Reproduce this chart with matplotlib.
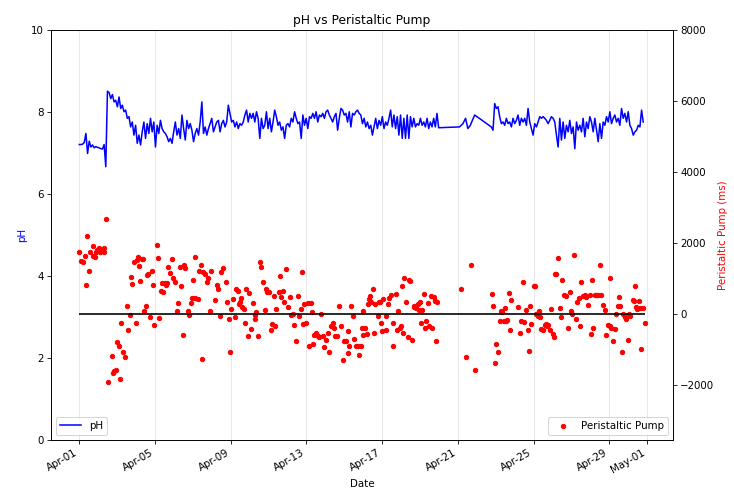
import matplotlib
matplotlib.use("Agg")
import matplotlib.pyplot as plt
import matplotlib.dates as mdates
import numpy as np
import pandas as pd

START = pd.Timestamp("2024-04-01")

# pH readings, first continuous run (one reading every 126 minutes from Apr 1)
ph_run1 = [
    7.21, 7.21, 7.22, 7.26, 7.48, 6.99, 7.29, 7.15, 7.20, 7.13,
    7.16, 7.14, 7.13, 7.11, 7.10, 7.21, 6.67, 8.51, 8.48, 8.33,
    8.43, 8.25, 8.29, 8.13, 8.37, 8.09, 8.17, 8.01, 8.05, 7.85,
    7.89, 7.64, 7.76, 7.44, 7.68, 7.24, 7.44, 7.20, 7.52, 7.76,
    7.36, 7.72, 7.48, 7.85, 7.52, 7.76, 7.15, 7.68, 7.48, 7.80,
    7.60, 7.52, 7.48, 7.40, 7.28, 7.36, 7.24, 7.52, 7.76, 7.44,
    7.60, 7.36, 7.93, 7.60, 7.32, 7.80, 7.60, 7.72, 7.56, 7.28,
    7.48, 7.60, 7.44, 7.76, 8.25, 7.48, 7.64, 7.44, 7.60, 7.72,
    7.85, 7.52, 7.64, 7.76, 7.80, 7.52, 7.72, 7.80, 7.64, 7.76,
    8.17, 7.97, 7.76, 7.80, 7.64, 7.76, 7.60, 7.72, 7.68, 7.76,
    7.93, 8.05, 7.76, 7.97, 7.85, 7.97, 7.76, 8.01, 7.85, 7.36,
    7.85, 7.60, 7.68, 8.01, 7.60, 7.85, 7.52, 7.76, 8.05, 7.89,
    7.68, 7.76, 7.56, 7.64, 7.36, 7.68, 7.72, 7.64, 7.85, 7.76,
    8.01, 7.85, 7.72, 7.76, 7.36, 7.93, 7.68, 7.85, 7.60, 7.89,
    7.85, 7.97, 7.85, 8.01, 7.76, 7.93, 7.89, 7.97, 7.85, 8.01,
    8.05, 7.93, 7.85, 7.76, 7.89, 7.97, 7.56, 7.85, 8.09, 8.05,
    7.93, 7.97, 7.76, 8.01, 7.64, 7.97, 7.93, 8.01, 8.05, 7.97,
    7.93, 7.72,
    7.85, 7.64, 7.76, 7.60, 7.68, 7.44, 7.64, 7.85, 7.60, 7.80,
    7.68, 7.89, 7.60, 7.76, 7.68, 7.85, 8.05, 7.64, 7.93, 7.60,
    7.89, 7.44, 7.93, 7.36, 7.85, 7.36, 7.93, 7.36, 7.89, 7.64,
    7.85, 7.64, 7.72, 7.68, 7.85, 7.68, 7.76, 7.64, 7.85, 7.60,
    7.76, 7.64, 7.85, 7.64, 7.97, 7.62,
]

# sparse readings around Apr 21 (days after Apr 1)
ph_gap_days = [20.09, 20.27, 20.41, 20.53, 20.66, 20.89, 21.77]
ph_gap_vals = [7.64, 7.72, 7.85, 7.60, 7.68, 7.93, 7.64]

# second continuous run (one reading every 127 minutes from day 21.86)
ph_run2_start = 21.86
ph_run2 = [
    7.56, 8.21, 8.09, 8.13, 7.89, 7.72, 7.76, 7.68, 7.85, 7.72,
    7.76, 7.64, 7.85, 7.72, 7.80, 7.93, 7.68, 7.85, 7.76, 7.85,
    7.68, 8.09, 7.76, 7.60, 7.44, 7.72, 7.64, 7.76, 7.89, 7.85,
    7.89, 7.85, 7.80, 7.72, 7.80, 7.89, 7.85, 7.76, 7.44, 7.15,
    7.85, 7.32, 7.76, 7.36, 7.68, 7.52, 7.80, 7.48, 7.64, 7.11,
    7.76, 7.56, 7.68, 7.52, 7.85, 7.40, 7.76, 7.60, 7.89, 7.76,
    7.52, 7.85, 7.56, 7.28, 7.72, 7.36, 7.76, 7.68, 7.89, 7.76,
    8.01, 7.72, 7.85, 7.93, 7.76, 7.85, 7.68, 8.09, 7.85, 7.97,
    7.76, 8.01, 7.68, 7.60, 7.44, 7.52, 7.56, 7.68, 7.64, 8.05,
    7.76,
]

# peristaltic pump dosing events: days after Apr 1 and duration (ms)
pump_days = [
    0.00, 0.11, 0.18, 0.28, 0.40, 0.49, 0.35, 0.58, 0.70, 0.75,
    0.81, 0.88, 0.95, 1.02, 1.09, 1.16, 1.28, 1.33, 1.40, 1.54,
    1.72, 1.77, 1.86, 1.93, 1.98, 2.11, 2.16, 2.21, 2.33, 2.39,
    2.51, 2.56, 2.68, 2.74, 2.81, 2.91, 2.98, 3.04, 3.12, 3.16,
    3.21, 3.30, 3.39, 3.44, 3.51, 3.56, 3.65, 3.74, 3.82, 3.91,
    3.96, 4.09, 4.14, 4.21, 4.32, 4.39, 4.44, 4.53, 4.56, 4.61,
    4.70, 4.79, 4.88, 4.96, 5.05, 5.14, 5.19, 5.32, 5.40, 5.49,
    5.54, 5.61, 5.75, 5.79, 5.89, 5.96, 6.02, 6.11, 6.14, 6.25,
    6.32, 6.42, 6.49, 6.54, 6.63, 6.77, 6.81, 6.89, 6.98, 7.16,
    7.25, 7.33, 7.42, 7.51, 7.60, 7.77, 7.82, 7.89, 7.95, 8.04,
    8.12, 8.21, 8.30, 8.39, 8.44, 8.47, 8.56, 8.60, 8.70, 8.77,
    8.82, 8.91, 8.95, 9.05, 9.18, 9.26, 9.30, 9.35, 9.44, 9.53,
    9.58, 9.70, 9.79, 9.88, 9.93, 10.00, 10.14, 10.18, 10.28, 10.35,
    10.40, 10.53, 10.58, 10.67, 10.75, 10.84, 10.93, 11.02, 11.11, 11.19,
    11.28, 11.37, 11.46, 11.54, 11.63, 11.72, 11.77, 11.81, 11.89, 11.98,
    12.07, 12.16, 12.25, 12.28, 12.33, 12.42, 12.51, 12.60, 12.68, 12.77,
    12.86, 12.95, 13.04, 13.12, 13.21, 13.30, 13.39, 13.44, 13.51, 13.61,
    13.74, 13.82, 13.91, 14.00, 14.09, 14.18, 14.21, 14.26, 14.35, 14.44,
    14.53, 14.61, 14.70, 14.79, 14.88, 14.96, 14.98, 15.01, 15.12, 15.19,
    15.24, 15.29, 15.37, 15.42, 15.51, 15.59, 15.65, 15.77, 15.82, 15.89,
    15.95, 16.00, 16.07, 16.18, 16.21, 16.30, 16.39, 16.48, 16.56, 16.60,
    16.71, 16.78, 16.83, 16.92, 17.01, 17.06, 17.09, 17.18, 17.27, 17.36,
    17.41, 17.48, 17.59, 17.66, 17.71, 17.80, 17.89, 17.94, 18.01, 18.06,
    18.12, 18.19, 18.24, 18.33, 18.42, 18.50, 18.59, 18.65, 18.72, 18.82,
    18.86, 18.89, 20.18, 20.44, 20.71, 20.89, 21.82, 21.86, 21.95, 22.03,
    22.12, 22.21, 22.30, 22.35, 22.42, 22.47, 22.53, 22.60, 22.70, 22.74,
    22.83, 23.18, 23.27, 23.35, 23.44, 23.48, 23.62, 23.71, 23.76, 23.83,
    23.88, 24.01, 24.06, 24.15, 24.24, 24.29, 24.32, 24.41, 24.50, 24.59,
    24.64, 24.71, 24.77, 24.85, 24.94, 25.03, 25.07, 25.12, 25.21, 25.30,
    25.38, 25.47, 25.52, 25.59, 25.70, 25.82, 25.91, 26.00, 26.05, 26.12,
    26.23, 26.30, 26.41, 26.48, 26.53, 26.62, 26.71, 26.79, 26.88, 26.97,
    27.06, 27.11, 27.15, 27.23, 27.32, 27.41, 27.50, 27.59, 27.68, 27.76,
    27.85, 27.94, 28.03, 28.06, 28.12, 28.20, 28.29, 28.38, 28.47, 28.52,
    28.59, 28.66, 28.73, 28.82, 28.87, 28.91, 29.00, 29.05, 29.12, 29.23,
    29.30, 29.35, 29.40, 29.47, 29.58, 29.61, 29.70, 29.79, 29.88,
]
pump_ms = [
    1740, 1500, 1480, 1650, 2210, 1220, 820, 1760, 1930, 1650,
    1600, 1740, 1810, 1850, 1760, 1810, 1740, 1850, 2680, -1910,
    -1190, -1650, -1600, -1570, -800, -910, -1830, -250, -1080, -1220,
    240, -440, -30, 1050, 850, 1460, -240, 1530, 1600, 1360,
    940, 1550, 1550, 90, 220, 1100, 1130, -70, 1220, 820,
    -300, 1950, 1570, -120, 660, 870, 610, 870, 820, 870,
    1320, 1160, 1550, 1010, 910, 90, 310, 1320, 780, -580,
    1380, 1290, 90, -30, 310, 440, 970, 440, 1600, 420,
    1220, 1380, -1270, 1180, 1130, 890, 1010, 90, 1220, 400,
    820, 720, -50, 1180, 1290, 910, 350, -140, -1060, 140,
    420, -70, 710, 660, 280, 330, 440, 190, 140, -240,
    720, -630, 590, -420, 310, -140, -30, 70, -630, 1480,
    1340, 890, 120, 710, 610, 630, -440, -280, 500, -350,
    140, 630, 1060, 470, 660, 350, 1270, 190, 470, -30,
    0, -310, -750, 520, -50, 140, 1190, -280, 280, -240,
    310, -910, 310, 50, -850, -590, -540, -630, -660, 0,
    -630, -940, -720, -520, -1080, -350, -250, -380, -630, -630,
    240, -350, -1290, -750, -750, -470, -1100, -890, 240, -50,
    -710, -890, -910, -1160, -890, -380, -590, 90, -380, -560,
    280, 420, 500, 350, 710, -520, 280, -50, 330, 330,
    -240, -470, 420, -50, -440, 280, 440, 540, -890, -240,
    560, -440, 90, -380, -350, 780, -520, 1010, 350, -660,
    970, 940, -720, 240, 190, 160, 280, 120, 330, -240,
    120, 560, -400, -190, 310, -350, 520, -400, 470, 380,
    -750, 330, 710, -1200, 1380, -1580, 560, 220, -1380, -850,
    -1080, -190, 90, 50, -190, 160, -190, -160, 590, -440,
    400, 190, -540, -190, 910, -220, 120, -440, -1030, 240,
    -280, 780, 780, 0, -50, 90, -90, -420, -440, -310,
    -280, -350, -310, -440, 140, -560, -660, 1130, 1130, 1570,
    160, -70, 970, 540, 520, -380, 630, 90, 0, 1660,
    -140, 330, 440, -350, 910, 520, 540, 470, 250, 540,
    -560, 970, -400, 540, 540, 540, 1380, 540, 250, 120,
    -590, -310, 1010, -350, -380, -750, -420, 0, 240, 470,
    220, -1080, 0, -70, -140, -90, -720, 0, -50, 400,
    380, 800, 190, 140, 380, 160, -990, 160, -250,
]

TICK_DAYS = [1, 5, 9, 13, 17, 21, 25, 29]

# timestamps
t_run1 = START + pd.to_timedelta(np.arange(len(ph_run1)) * 126, unit="min")
t_gap = START + pd.to_timedelta(ph_gap_days, unit="D")
t_run2 = (START + pd.to_timedelta(ph_run2_start, unit="D")
          + pd.to_timedelta(np.arange(len(ph_run2)) * 127, unit="min"))
ph_t = t_run1.append(t_gap).append(t_run2)
ph_v = list(ph_run1) + list(ph_gap_vals) + list(ph_run2)

pump_t = START + pd.to_timedelta(pump_days, unit="D")

fig = plt.figure(figsize=(10, 6.744), dpi=73.4)
ax1 = fig.add_subplot(111)
ax2 = ax1.twinx()

ax1.plot(ph_t, ph_v, color="blue", label="pH")
ax1.set_ylim(0, 10)
ax1.set_ylabel("pH", color="blue")
ax1.set_xlabel("Date")
ax1.set_title("pH vs Peristaltic Pump")
ax1.grid(axis="x", color="#d0d0d0", alpha=0.6)

ax2.scatter(pump_t, pump_ms, color="red", s=18, label="Peristaltic Pump")
ax2.hlines(0, pump_t.min(), pump_t.max(), color="black", linewidth=1.6)
ax2.set_ylim(-3550, 8000)
ax2.set_ylabel("Peristaltic Pump (ms)", color="red")

ax1.xaxis.set_major_locator(mdates.DayLocator(bymonthday=TICK_DAYS))
ax1.xaxis.set_major_formatter(mdates.DateFormatter("%b-%d"))
for lbl in ax1.get_xticklabels():
    lbl.set_rotation(30)
    lbl.set_horizontalalignment("right")

ax1.legend(loc="lower left")
ax2.legend(loc="lower right")

fig.subplots_adjust(left=0.0695, right=0.917, top=0.939, bottom=0.111)
fig.savefig("out.png", dpi=73.4)
